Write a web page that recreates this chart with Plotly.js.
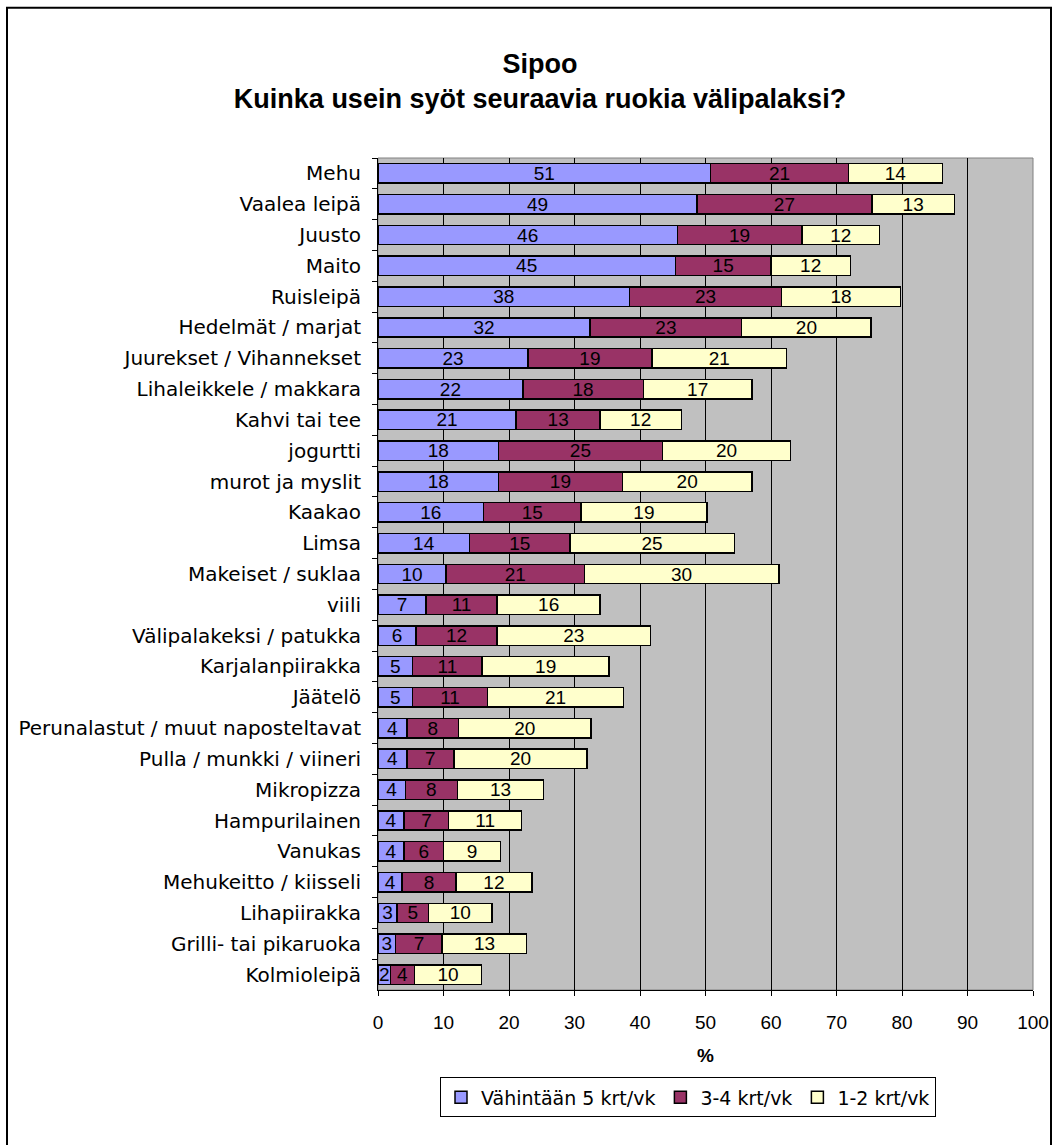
<!DOCTYPE html>
<html>
<head>
<meta charset="utf-8">
<script src="https://cdn.plot.ly/plotly-3.0.1.min.js"></script>
<style>
  html, body { margin: 0; padding: 0; background: #ffffff; }
  #chart { width: 1058px; height: 1145px; }
</style>
</head>
<body>
<div id="chart"></div>
<script>
const categories = [
  "Mehu", "Vaalea leipä", "Juusto", "Maito", "Ruisleipä", "Hedelmät / marjat",
  "Juurekset / Vihannekset", "Lihaleikkele / makkara", "Kahvi tai tee", "jogurtti",
  "murot ja myslit", "Kaakao", "Limsa", "Makeiset / suklaa", "viili",
  "Välipalakeksi / patukka", "Karjalanpiirakka", "Jäätelö",
  "Perunalastut / muut naposteltavat", "Pulla / munkki / viineri", "Mikropizza",
  "Hampurilainen", "Vanukas", "Mehukeitto / kiisseli", "Lihapiirakka",
  "Grilli- tai pikaruoka", "Kolmioleipä"
];
const atLeast5 = [50.8, 48.7, 45.7, 45.4, 38.4, 32.4, 22.9, 22.1, 21.1, 18.4, 18.4, 16.1, 14.0, 10.4, 7.3, 5.8, 5.3, 5.3, 4.4, 4.4, 4.2, 4.0, 4.0, 3.7, 2.9, 2.7, 1.9];
const times34  = [21.0, 26.7, 19.0, 14.6, 23.2, 23.1, 18.9, 18.4, 12.8, 25.0, 18.9, 14.9, 15.3, 21.1, 10.9, 12.4, 10.6, 11.4, 7.9, 7.2, 7.9, 6.8, 6.0, 8.2, 4.8, 7.1, 3.7];
const times12  = [14.4, 12.6, 11.9, 12.1, 18.2, 19.8, 20.6, 16.6, 12.4, 19.6, 19.8, 19.2, 25.1, 29.7, 15.7, 23.4, 19.4, 20.8, 20.2, 20.3, 13.2, 11.1, 8.7, 11.6, 9.7, 12.9, 10.2];
const seriesNames = ["Vähintään 5 krt/vk", "3-4 krt/vk", "1-2 krt/vk"];
const xTicks = [0, 10, 20, 30, 40, 50, 60, 70, 80, 90, 100];

const FONT = "Liberation Sans, Arial, Helvetica, sans-serif";
const WIDE = "DejaVu Sans, Verdana, sans-serif";
const colors = ["#9999FF", "#993366", "#FFFFCC"];
const seriesValues = [atLeast5, times34, times12];

const traces = seriesValues.map((vals, i) => ({
  type: "bar",
  orientation: "h",
  name: seriesNames[i],
  y: categories,
  x: vals,
  marker: { color: colors[i], line: { color: "#000000", width: 1.5 } },
  text: vals.map(v => Math.round(v).toString()),
  texttemplate: "%{text}",
  textposition: "inside",
  insidetextanchor: "middle",
  textangle: 0,
  constraintext: "none",
  textfont: { family: FONT, size: 19, color: "#000000" },
  hoverinfo: "skip"
}));

const W = 1058, H = 1145;
const mL = 378, mR = 25, mT = 157.5, mB = 154.6;
const pw = W - mL - mR, ph = H - mT - mB;
const px = x => (x - mL) / pw;
const py = y => (H - mB - y) / ph;

const layout = {
  width: W, height: H,
  barmode: "stack",
  bargap: 0.37,
  paper_bgcolor: "#ffffff",
  plot_bgcolor: "#C0C0C0",
  margin: { l: mL, r: mR, t: mT, b: mB, pad: 0 },
  font: { family: FONT, size: 19, color: "#000000" },
  title: {
    text: "<b>Sipoo</b><br><b>Kuinka usein syöt seuraavia ruokia välipalaksi?</b>",
    font: { family: FONT, size: 27, color: "#000000" },
    x: 540 / W, xanchor: "center",
    y: 1 - 73 / H, yanchor: "middle", yref: "container"
  },
  xaxis: {
    range: [0, 100],
    tickvals: xTicks,
    ticktext: xTicks.map(String),
    showgrid: true, gridcolor: "#000000", gridwidth: 1,
    zeroline: false,
    showline: true, linecolor: "#000000", linewidth: 1,
    ticks: "outside", ticklen: 5, tickcolor: "#000000",
    ticklabelstandoff: 10,
    tickfont: { family: FONT, size: 19, color: "#000000" },
    title: { text: "<b>%</b>", font: { family: FONT, size: 19, color: "#000000" }, standoff: 16 },
    fixedrange: true
  },
  yaxis: {
    type: "category",
    autorange: "reversed",
    showgrid: false,
    zeroline: false,
    showline: true, linecolor: "#000000", linewidth: 1,
    ticks: "outside", ticklen: 5, tickcolor: "#000000",
    tickson: "boundaries",
    ticklabelstandoff: 12,
    tickfont: { family: WIDE, size: 20, color: "#000000" },
    fixedrange: true
  },
  showlegend: true,
  legend: {
    orientation: "h",
    x: px(688), xanchor: "center",
    y: py(1098), yanchor: "middle",
    bgcolor: "#ffffff",
    bordercolor: "#000000", borderwidth: 1,
    font: { family: WIDE, size: 19, color: "#000000" },
    traceorder: "normal",
    itemclick: false, itemdoubleclick: false
  },
  shapes: [
    { type: "rect", xref: "paper", yref: "paper", x0: 0, x1: 1, y0: 0, y1: 1,
      line: { color: "#808080", width: 1 }, layer: "below" },
    { type: "rect", xref: "paper", yref: "paper",
      x0: px(7), x1: px(1051), y0: py(1160), y1: py(7),
      line: { color: "#000000", width: 2 }, fillcolor: "rgba(0,0,0,0)", layer: "above" }
  ]
};

Plotly.newPlot("chart", traces, layout, { displayModeBar: false, staticPlot: true });
</script>
</body>
</html>
